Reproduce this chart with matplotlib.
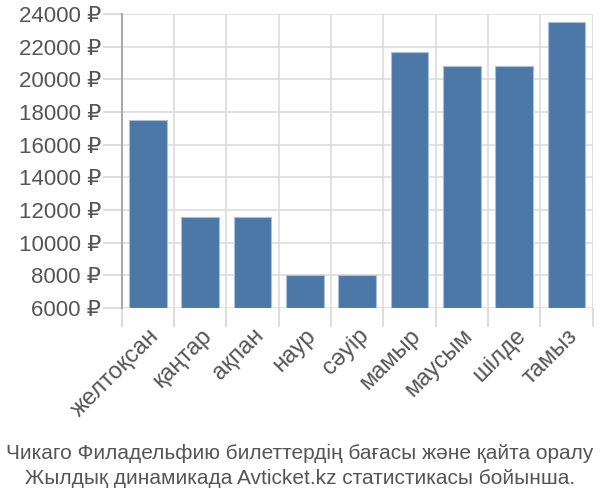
import matplotlib.pyplot as plt

months = ["желтоқсан", "қаңтар", "ақпан", "наур", "сәуір",
          "мамыр", "маусым", "шілде", "тамыз"]
prices = [17500, 11600, 11600, 8000, 8000, 21700, 20800, 20800, 23500]
yticks = list(range(6000, 24001, 2000))
caption = ("Чикаго Филадельфию билеттердің бағасы және қайта оралу\n"
           "Жылдық динамикада Avticket.kz статистикасы бойынша.")

plt.rcParams["font.family"] = ["Liberation Sans", "DejaVu Sans"]

fig = plt.figure(figsize=(6, 5), dpi=100)
ax = fig.add_axes([0.203, 0.384, 0.785, 0.588])

x = range(len(months))
ax.bar(x, [p - 6000 for p in prices], bottom=6000, width=0.72,
       color="#4c78a8", edgecolor="#a9c0da", linewidth=0.8, zorder=3)

ax.set_xlim(-0.5, len(months) - 0.5)
ax.set_ylim(6000, 24000)
ax.set_yticks(yticks)
ax.set_yticklabels([f"{v} ₽" for v in yticks], fontsize=16, color="#555555")

ax.set_xticks([i - 0.5 for i in range(len(months) + 1)], minor=False)
ax.set_xticklabels([""] * (len(months) + 1))
ax.set_xticks(list(x), minor=True)
ax.set_xticklabels(months, minor=True, rotation=45, ha="right",
                   rotation_mode="anchor", fontsize=17, color="#555555")
ax.tick_params(axis="x", which="major", length=14, color="#dddddd", width=1.5)
ax.tick_params(axis="x", which="minor", length=0, pad=12)
ax.tick_params(axis="y", length=14, color="#dddddd", width=1.5, pad=1)

ax.grid(True, color="#dddddd", linewidth=1.2, zorder=0)
for s in ["top", "right", "bottom"]:
    ax.spines[s].set_visible(False)
ax.spines["left"].set_color("#aaaaaa")
ax.spines["left"].set_linewidth(1.5)
ax.spines["left"].set_bounds(6000, 24000)

fig.text(0.5, 0.025, caption, ha="center", va="bottom", fontsize=15,
         color="#555555", linespacing=1.35)

fig.savefig("out.png")
